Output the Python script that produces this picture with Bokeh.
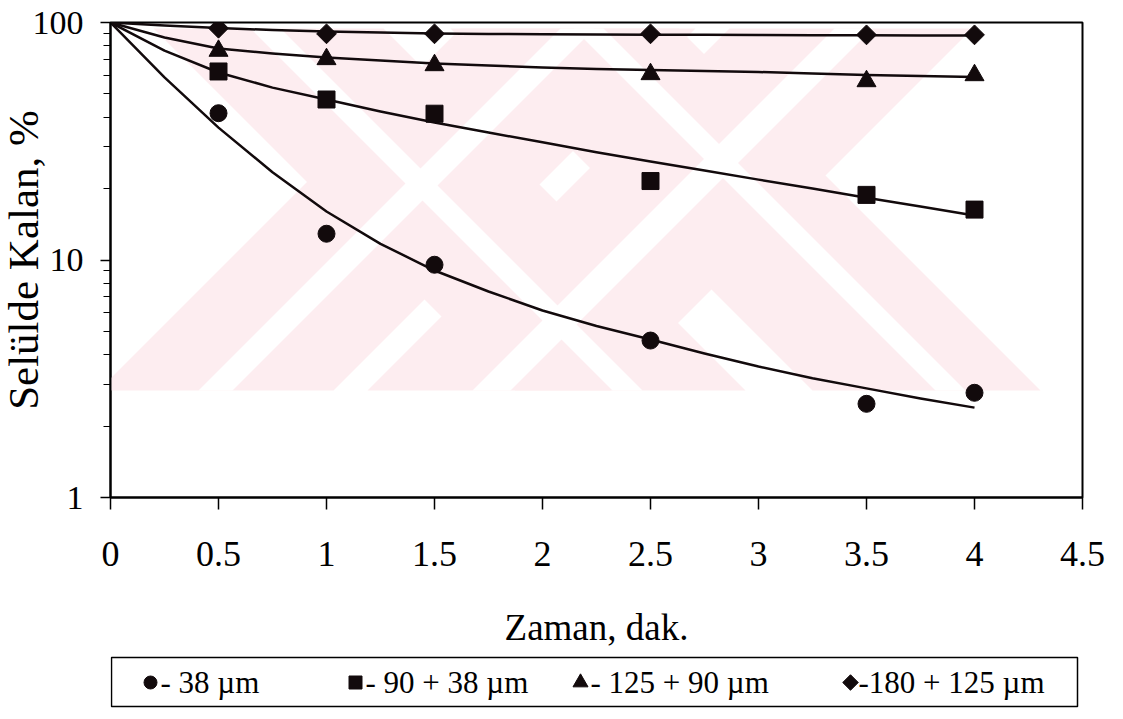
import math

from bokeh.plotting import figure
from bokeh.layouts import column
from bokeh.models import FixedTicker, Title
from bokeh.core.properties import value
from bokeh.embed import file_html
from bokeh.resources import INLINE

# ---------------------------------------------------------------- data
# Flotation time, min
TIME = [0.5, 1, 1.5, 2.5, 3.5, 4]

# Amount remaining in the cell, % (measured points)
R_38 = [41.5, 12.9, 9.55, 4.58, 2.48, 2.76]
R_90_38 = [62.2, 47.4, 41.3, 21.5, 18.8, 16.3]
R_125_90 = [76.0, 70.1, 66.1, 60.6, 56.6, 60.0]
R_180_125 = [94.6, 89.6, 89.6, 89.6, 88.7, 88.7]

# Fitted kinetic curves, read every quarter minute
FIT_TIME = [0, 0.25, 0.5, 0.75, 1, 1.25, 1.5, 1.75, 2,
            2.25, 2.5, 2.75, 3, 3.25, 3.5, 3.75, 4]
FIT_38 = [100, 58.7, 36.1, 23.4, 16.0, 11.7, 9.03, 7.37, 6.13,
          5.27, 4.63, 4.04, 3.56, 3.18, 2.88, 2.61, 2.39]
FIT_90_38 = [100, 76.2, 61.6, 53.2, 47.4, 42.2, 37.9, 34.4, 31.3,
             28.4, 26.0, 23.8, 21.8, 20.0, 18.3, 16.8, 15.4]
FIT_125_90 = [100, 86.5, 77.7, 74.0, 71.2, 69.2, 67.2, 65.9, 64.6,
              63.7, 63.1, 62.5, 61.9, 61.0, 60.1, 59.5, 58.9]
FIT_180_125 = [100, 97.1, 94.8, 93.0, 91.6, 90.8, 89.9, 89.5, 89.2,
               89.0, 88.9, 88.7, 88.5, 88.4, 88.3, 88.2, 88.2]

SERIES_LABELS = ["- 38 µm", "- 90 + 38 µm", "- 125 + 90 µm", "-180 + 125 µm"]

X_TICKS = [0, 0.5, 1, 1.5, 2, 2.5, 3, 3.5, 4, 4.5]
X_TICK_LABELS = ["0", "0.5", "1", "1.5", "2", "2.5", "3", "3.5", "4", "4.5"]
Y_TICKS = [1, 10, 100]
Y_TICK_LABELS = ["1", "10", "100"]
Y_MINOR = [2, 3, 4, 5, 6, 7, 8, 9, 20, 30, 40, 50, 60, 70, 80, 90]

X_TITLE = "Zaman, dak."
Y_TITLE = "Selülde Kalan, %"

# ---------------------------------------------------------------- layout
FONT = "Liberation Serif"
INK = "#120a0c"
W, H_MAIN, H_LEG = 1123, 650, 69
FL, FR, FT, FB = 110, 1082, 22, 497          # plot frame edges, px
X_MIN, X_MAX, Y_MIN, Y_MAX = 0, 4.5, 1, 100

# marker style per series: (marker, size, angle)
STYLE = [("circle", 17, 0.0), ("square", 17, 0.0),
         ("triangle", 19, 0.0), ("square", 14, math.pi / 4)]
LEG_STYLE = [("circle", 13, 0.0), ("square", 13, 0.0),
             ("triangle", 15, 0.0), ("square", 11, math.pi / 4)]


def px_to_data(px, py):
    """Convert canvas pixel position to data coordinates of the main plot."""
    xd = X_MIN + (px - FL) * (X_MAX - X_MIN) / (FR - FL)
    lmax, lmin = math.log10(Y_MAX), math.log10(Y_MIN)
    yd = 10 ** (lmax - (py - FT) / (FB - FT) * (lmax - lmin))
    return xd, yd


def clip_rect(poly, x0, y0, x1, y1):
    """Sutherland-Hodgman clip of a polygon against an axis-aligned box."""
    def clip(pts, inside, inter):
        out = []
        for i in range(len(pts)):
            cur, prev = pts[i], pts[i - 1]
            if inside(cur):
                if not inside(prev):
                    out.append(inter(prev, cur))
                out.append(cur)
            elif inside(prev):
                out.append(inter(prev, cur))
        return out

    def ix(xc):
        return lambda a, b: (xc, a[1] + (b[1] - a[1]) * (xc - a[0]) / (b[0] - a[0]))

    def iy(yc):
        return lambda a, b: (a[0] + (b[0] - a[0]) * (yc - a[1]) / (b[1] - a[1]), yc)

    pts = clip(poly, lambda p: p[0] >= x0, ix(x0))
    pts = clip(pts, lambda p: p[0] <= x1, ix(x1))
    pts = clip(pts, lambda p: p[1] >= y0, iy(y0))
    pts = clip(pts, lambda p: p[1] <= y1, iy(y1))
    return pts


def band(kind, a, b):
    """Diagonal band: '/' where a < x+y < b, '\\' where a < x-y < b (px)."""
    if kind == "/":
        return [(a, 0), (b, 0), (b - 800, 800), (a - 800, 800)]
    return [(a, 0), (b, 0), (b + 800, 800), (a + 800, 800)]


# faint emblem printed behind the plot
EMBLEM_BOX = (95, 28, 1045, 390)
EMBLEM_ARMS = [("/", 488, 723), ("/", 757, 1000), ("\\", 125, 355), ("\\", 422, 650)]
EMBLEM_GAPS = [("/", 588, 622), ("/", 862, 900), ("\\", 222, 252), ("\\", 545, 575)]


def emblem_patches(bands):
    xs, ys = [], []
    for kind, a, b in bands:
        pts = clip_rect(band(kind, a, b), *EMBLEM_BOX)
        if len(pts) < 3:
            continue
        d = [px_to_data(x, y) for x, y in pts]
        xs.append([q[0] for q in d])
        ys.append([q[1] for q in d])
    return xs, ys


# ---------------------------------------------------------------- main plot
p = figure(
    width=W, height=H_MAIN,
    x_range=(X_MIN, X_MAX), y_range=(Y_MIN, Y_MAX),
    y_axis_type="log",
    output_backend="svg", toolbar_location=None,
    min_border_left=FL, min_border_right=W - FR,
    min_border_top=FT, min_border_bottom=H_MAIN - FB,
)
p.title = None
p.background_fill_color = "white"
p.border_fill_color = "white"
p.xgrid.visible = False
p.ygrid.visible = False
p.outline_line_color = "black"
p.outline_line_width = 2

ex, ey = emblem_patches(EMBLEM_ARMS)
p.patches(ex, ey, fill_color="#fdedf0", line_color=None)
gx, gy = emblem_patches(EMBLEM_GAPS)
p.patches(gx, gy, fill_color="white", line_color=None)

fits = [FIT_38, FIT_90_38, FIT_125_90, FIT_180_125]
points = [R_38, R_90_38, R_125_90, R_180_125]

for fit in fits:
    p.line(FIT_TIME, fit, line_color=INK, line_width=2.5, line_join="round")
for pts, (mk, sz, ang) in zip(points, STYLE):
    p.scatter(TIME, pts, marker=mk, size=sz, angle=ang,
              fill_color=INK, line_color=INK, line_width=1)

# x axis
xa = p.xaxis[0]
xa.ticker = FixedTicker(ticks=X_TICKS)
xa.major_label_overrides = {t: s for t, s in zip(X_TICKS, X_TICK_LABELS)}
xa.axis_line_width = 2
xa.major_tick_in = 0
xa.major_tick_out = 12
xa.major_tick_line_width = 1.5
xa.minor_tick_in = 0
xa.minor_tick_out = 0
xa.major_label_standoff = 32
xa.major_label_text_font = FONT
xa.major_label_text_font_size = "36px"
xa.major_label_text_color = "black"
xa.axis_label = X_TITLE
xa.axis_label_standoff = 38
xa.axis_label_text_font = FONT
xa.axis_label_text_font_size = "37px"
xa.axis_label_text_font_style = "normal"
xa.axis_label_text_color = "black"

# y axis (log)
ya = p.yaxis[0]
ya.ticker = FixedTicker(ticks=Y_TICKS, minor_ticks=Y_MINOR)
ya.major_label_overrides = {t: s for t, s in zip(Y_TICKS, Y_TICK_LABELS)}
ya.axis_line_width = 2
ya.major_tick_in = 0
ya.major_tick_out = 10
ya.major_tick_line_width = 1.5
ya.minor_tick_in = 0
ya.minor_tick_out = 7
ya.minor_tick_line_width = 1.2
ya.major_label_standoff = 17
ya.major_label_text_font = FONT
ya.major_label_text_font_size = "34px"
ya.major_label_text_color = "black"

# y title sits beside the tick labels, a little above the frame centre
p.add_layout(Title(text=Y_TITLE, align="center", offset=32, standoff=-34,
                   text_font=FONT, text_font_size="43px",
                   text_font_style="normal", text_color="black"), "left")

# ---------------------------------------------------------------- legend strip
leg = figure(
    width=W, height=H_LEG,
    x_range=(FL, FR), y_range=(0, H_LEG),
    output_backend="svg", toolbar_location=None,
    x_axis_location=None, y_axis_location=None,
    min_border_left=FL, min_border_right=W - FR,
    min_border_top=0, min_border_bottom=0,
)
leg.title = None
leg.xgrid.visible = False
leg.ygrid.visible = False
leg.outline_line_color = None
leg.background_fill_color = "white"
leg.border_fill_color = "white"

leg.quad(left=111, right=1077, bottom=13, top=62,
         fill_color="white", line_color="black", line_width=1.5)

LEG_MARK_X = [150, 355, 580, 850]
LEG_TEXT_X = [160, 365, 590, 858]
LEG_Y = 37
for (mk, sz, ang), mx, lx, lab in zip(LEG_STYLE, LEG_MARK_X, LEG_TEXT_X, SERIES_LABELS):
    leg.scatter([mx], [LEG_Y], marker=mk, size=sz, angle=ang,
                fill_color=INK, line_color=INK)
    leg.text([lx], [LEG_Y], text=[lab], text_font=value(FONT),
             text_font_size="31px", text_baseline="middle",
             text_align="left", text_color="black")

layout = column(p, leg, spacing=0)

open("out.html", "w").write(file_html(layout, INLINE))
